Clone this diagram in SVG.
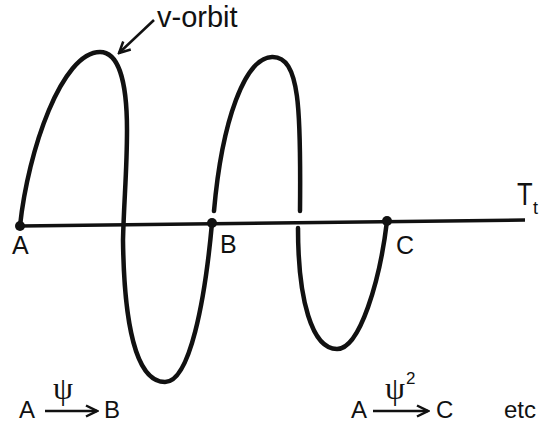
<svg xmlns="http://www.w3.org/2000/svg" width="539" height="425" viewBox="0 0 539 425">
<defs>
<style>
.curve{fill:none;stroke:#111;stroke-width:4.5;stroke-linecap:round;stroke-linejoin:round}
.axis{fill:none;stroke:#111;stroke-width:3.5;stroke-linecap:butt}
.arr{fill:none;stroke:#111;stroke-width:2.5}
.dot{fill:#111}
.lbl{font-family:"Liberation Sans",Arial,sans-serif;fill:#111}
.greek{font-family:"Liberation Serif","DejaVu Serif",serif;fill:#111}
</style>
<marker id="open" markerWidth="14" markerHeight="14" refX="12" refY="7" orient="auto" markerUnits="userSpaceOnUse">
<path d="M1,1.5 L12,7 L1,12.5" fill="none" stroke="#111" stroke-width="2.5"/>
</marker>
</defs>
<g id="connectors">
<line class="axis" x1="20" y1="226" x2="525" y2="220"/>
<path class="curve" d="M20,226 C28,150 62,52 100,52 C118,52 127,80 127,130 C127,170 124,200 123,240 C124,320 135,382 165,382 C190,382 205,300 212,223"/>
<path class="curve" d="M214,211 C222,120 245,58 272,57 C300,56 301,110 300,211"/>
<path class="curve" d="M298,228 C298,300 312,349 337,349 C360,349 380,280 387,221"/>
<line class="arr" x1="154" y1="20" x2="119" y2="53" marker-end="url(#open)"/>
<line class="arr" x1="45" y1="411" x2="97" y2="411" marker-end="url(#open)"/>
<line class="arr" x1="373" y1="411" x2="428" y2="411" marker-end="url(#open)"/>
</g>
<g id="A"><circle class="dot" cx="20" cy="226" r="5"/><text class="lbl" x="12" y="254" font-size="25">A</text></g>
<g id="B"><circle class="dot" cx="212" cy="223" r="5"/><text class="lbl" x="220" y="253" font-size="25">B</text></g>
<g id="C"><circle class="dot" cx="387" cy="221" r="5"/><text class="lbl" x="396" y="254" font-size="25">C</text></g>
<g id="vorbit"><text class="lbl" x="157" y="27" font-size="29">v-orbit</text></g>
<g id="Tt"><text class="lbl" x="0" y="0" font-size="32" transform="translate(517,205) scale(0.8,1)">T</text><text class="lbl" x="533" y="214" font-size="18">t</text></g>
<g id="map1">
<text class="lbl" x="19" y="418" font-size="24">A</text>
<text class="greek" x="63" y="399" font-size="32" text-anchor="middle">ψ</text>
<text class="lbl" x="104" y="418" font-size="24">B</text>
</g>
<g id="map2">
<text class="lbl" x="351" y="418" font-size="24">A</text>
<text class="greek" x="395" y="399" font-size="32" text-anchor="middle">ψ</text>
<text class="lbl" x="406" y="384" font-size="17">2</text>
<text class="lbl" x="436" y="418" font-size="24">C</text>
<text class="lbl" x="504" y="418" font-size="24">etc</text>
</g>
</svg>
